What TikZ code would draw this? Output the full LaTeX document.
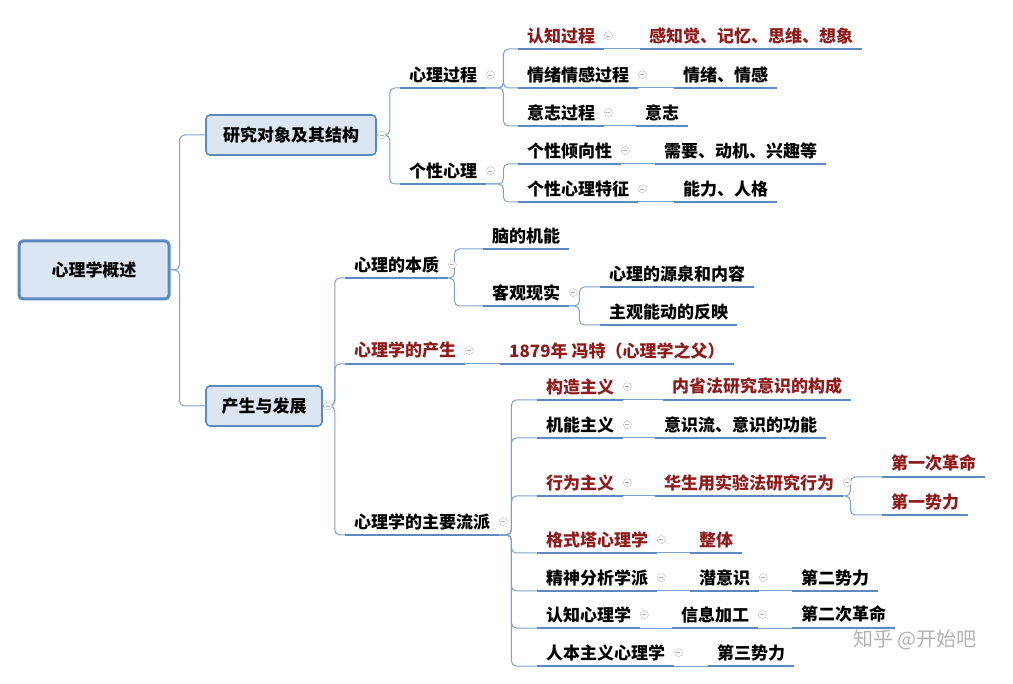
\documentclass[tikz,border=0pt]{standalone}
\usepackage{fontspec}
\setmainfont{Noto Sans CJK SC}
\definecolor{lineblue}{HTML}{5B8AC0}
\definecolor{boxfill}{HTML}{DCE6F2}
\definecolor{darkred}{HTML}{8E1B1B}
\tikzset{
  uline/.style={draw=lineblue, line width=1.6pt},
  link/.style={draw=lineblue!80, line width=1pt, rounded corners=5pt},
  topic/.style={anchor=south west, font=\bfseries\fontsize{17}{19}\selectfont,
    inner xsep=9pt, inner ysep=5pt,
    append after command={(\tikzlastnode.south west) edge[uline] (\tikzlastnode.south east)}},
  hot/.style={topic, text=darkred},
  box/.style={draw=lineblue, line width=1.6pt, fill=boxfill, rounded corners=4pt,
    font=\bfseries\fontsize{17}{19}\selectfont, minimum height=40pt, inner xsep=10pt},
  mini/.style={circle, draw=gray!55, fill=white, minimum size=8pt, inner sep=0pt,
    path picture={\draw[gray!60] ([xshift=2pt]path picture bounding box.west)
      -- ([xshift=-2pt]path picture bounding box.east);}}
}
\newcommand{\branch}[3]{\draw[link] (#1.south east) -- ++(#3,0) |- (#2.south west);}
\newcommand{\boxbranch}[3]{\draw[link] (#1.east) -- ++(#3,0) |- (#2.south west);}
\newcommand{\fold}[1]{\node[mini] at ([xshift=4pt]#1.east) {};}

\begin{document}
\begin{tikzpicture}[x=1pt, y=-1pt]
\useasboundingbox (0,0) rectangle (1013,684);
% Root and main boxes
    \node[box, line width=3pt, minimum width=150pt, minimum height=58pt] (root) at (94,270) {心理学概述};
    \node[box, minimum width=170pt] (yj) at (291,135) {研究对象及其结构};
    \node[box, minimum width=116pt] (fz) at (264,406) {产生与发展};
% Research object
    \node[topic] (xlgc) at (400,88) {心理过程};
    \node[topic] (gxxl) at (400,184) {个性心理};
    \node[hot] (rzgc) at (518,49) {认知过程};
    \node[topic] (qxgc) at (518,88) {情绪情感过程};
    \node[topic] (yzgc) at (518,126) {意志过程};
    \node[topic] (qxx) at (518,164) {个性倾向性};
    \node[topic] (tz) at (518,202) {个性心理特征};
    \node[hot] (gzj) at (640,49) {感知觉、记忆、思维、想象};
    \node[topic] (qg) at (674,88) {情绪、情感};
    \node[topic] (yz) at (636,126) {意志};
    \node[topic] (xq) at (655,164) {需要、动机、兴趣等};
    \node[topic] (nl) at (674,202) {能力、人格};
% Origin and development
    \node[topic] (bz) at (345,278) {心理的本质};
    \node[hot] (cs) at (345,364) {心理学的产生};
    \node[topic] (lp) at (345,535) {心理学的主要流派};
    \node[topic] (nj) at (483,249) {脑的机能};
    \node[topic] (kg) at (483,306) {客观现实};
    \node[topic] (yq) at (600,287) {心理的源泉和内容};
    \node[topic] (fy) at (600,325) {主观能动的反映};
    \node[hot] (wt) at (500,364) {1879年 冯特（心理学之父）};
% Schools
    \node[hot] (gz) at (537,400) {构造主义};
    \node[topic] (jn) at (537,438) {机能主义};
    \node[hot] (xw) at (537,496) {行为主义};
    \node[hot] (gs) at (537,553) {格式塔心理学};
    \node[topic] (js) at (537,591) {精神分析学派};
    \node[topic] (rz) at (537,628) {认知心理学};
    \node[topic] (rb) at (537,666) {人本主义心理学};
    \node[hot] (nx) at (663,400) {内省法研究意识的构成};
    \node[topic] (ys) at (655,438) {意识流、意识的功能};
    \node[hot] (hs) at (655,496) {华生用实验法研究行为};
    \node[hot] (zt) at (690,553) {整体};
    \node[topic] (qys) at (690,591) {潜意识};
    \node[topic] (xx) at (672,628) {信息加工};
    \node[topic] (sl3) at (708,666) {第三势力};
    \node[hot] (gm1) at (882,477) {第一次革命};
    \node[hot] (sl1) at (882,515) {第一势力};
    \node[topic] (sl2) at (792,591) {第二势力};
    \node[topic] (gm2) at (792,628) {第二次革命};
% Connectors
    \draw[link] (root.east) -- ++(9,0) |- (yj.west);
    \draw[link] (root.east) -- ++(9,0) |- (fz.west);
    \boxbranch{yj}{xlgc}{13}
    \boxbranch{yj}{gxxl}{13}
    \branch{xlgc}{rzgc}{17}
    \branch{xlgc}{qxgc}{17}
    \branch{xlgc}{yzgc}{17}
    \branch{gxxl}{qxx}{17}
    \branch{gxxl}{tz}{17}
    \foreach \p/\c in {rzgc/gzj, qxgc/qg, yzgc/yz, qxx/xq, tz/nl, cs/wt, gz/nx, jn/ys,
        xw/hs, gs/zt, js/qys, rz/xx, rb/sl3, qys/sl2, xx/gm2}
      {\draw[link] (\p.south east) -- (\c.south west);}
    \boxbranch{fz}{bz}{12}
    \boxbranch{fz}{cs}{12}
    \boxbranch{fz}{lp}{12}
    \branch{bz}{nj}{6}
    \branch{bz}{kg}{6}
    \branch{kg}{yq}{10}
    \branch{kg}{fy}{10}
    \foreach \c in {gz, jn, xw, gs, js, rz, rb}
      {\branch{lp}{\c}{12}}
    \branch{hs}{gm1}{7}
    \branch{hs}{sl1}{7}
% Fold marks
    \foreach \n in {yj, fz}
      {\node[mini] at ([xshift=5pt]\n.east) {};}
    \foreach \n in {xlgc, gxxl, rzgc, qxgc, yzgc, qxx, tz, bz, kg, cs, lp, gz, jn, xw, gs, js, rz, rb, hs, qys, xx}
      {\fold{\n}}
% Watermark
    \node[text=gray!60, font=\fontsize{20}{22}\selectfont] (wm) at (915,640) {知乎 @开始吧};
\end{tikzpicture}
\end{document}
